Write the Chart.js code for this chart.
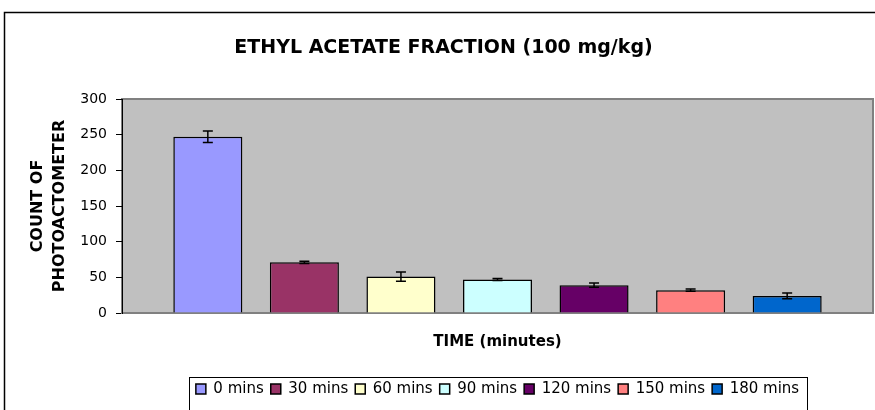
<!DOCTYPE html>
<html>
<head>
<meta charset="utf-8">
<script src="https://cdn.jsdelivr.net/npm/chart.js@4"></script>
<style>
  body { margin: 0; background: #fff; }
  #chartRoot { width: 875px; height: 410px; }
</style>
</head>
<body>
<div id="chartRoot"><canvas id="myChart" width="875" height="410"></canvas></div>
<script>
// data
const timePoints = ['0 mins', '30 mins', '60 mins', '90 mins', '120 mins', '150 mins', '180 mins'];
const counts = [247, 71, 51, 47, 39, 32, 24];
const errors = [8, 1.5, 6.5, 1.5, 3, 1.5, 4];
const barColors = ['#9999FF', '#993366', '#FFFFCC', '#CCFFFF', '#660066', '#FF8080', '#0066CC'];
const yTicks = [0, 50, 100, 150, 200, 250, 300];

Chart.defaults.font.family = "'DejaVu Sans', sans-serif";
Chart.defaults.color = '#000';

// grey plot area, outer frame and legend box
const framePlugin = {
	id: 'frame',
	beforeDraw(chart) {
		const ctx = chart.ctx;
		const a = chart.chartArea;
		ctx.save();
		ctx.fillStyle = '#fff';
		ctx.fillRect(0, 0, chart.width, chart.height);
		ctx.strokeStyle = '#000';
		ctx.lineWidth = 1.5;
		ctx.strokeRect(4.5, 12.5, chart.width + 20, chart.height + 20);
		ctx.fillStyle = '#C0C0C0';
		ctx.fillRect(a.left, a.top, a.right - a.left, a.bottom - a.top);
		ctx.strokeStyle = '#808080';
		ctx.lineWidth = 2;
		ctx.strokeRect(a.left, a.top, a.right - a.left, a.bottom - a.top);

		const boxes = chart.legend.legendHitBoxes;
		if (boxes && boxes.length) {
			const first = boxes[0];
			const last = boxes[boxes.length - 1];
			const midY = first.top + first.height / 2;
			ctx.strokeStyle = '#000';
			ctx.lineWidth = 1;
			ctx.strokeRect(Math.round(first.left - 7) + 0.5, Math.round(midY - 12) + 0.5,
				Math.round(last.left + last.width - first.left + 15), 60);
		}
		ctx.restore();
	}
};

// error bars drawn through the y scale
const errorBars = {
	id: 'errorBars',
	afterDatasetsDraw(chart) {
		const ctx = chart.ctx;
		const y = chart.scales.y;
		ctx.save();
		ctx.strokeStyle = '#000';
		ctx.lineWidth = 1.5;
		chart.data.datasets.forEach((ds, i) => {
			const bar = chart.getDatasetMeta(i).data[0];
			const top = y.getPixelForValue(counts[i] + errors[i]);
			const bot = y.getPixelForValue(counts[i] - errors[i]);
			ctx.beginPath();
			ctx.moveTo(bar.x, top); ctx.lineTo(bar.x, bot);
			ctx.moveTo(bar.x - 5, top); ctx.lineTo(bar.x + 5, top);
			ctx.moveTo(bar.x - 5, bot); ctx.lineTo(bar.x + 5, bot);
			ctx.stroke();
		});
		ctx.restore();
	}
};

const datasets = [];
for (let i = 0; i < timePoints.length; i++) {
	datasets.push({
		label: timePoints[i],
		data: [counts[i]],
		backgroundColor: barColors[i],
		borderColor: '#000',
		borderWidth: 1.5,
		categoryPercentage: 0.9,
		barPercentage: 0.715
	});
}

const ctx = document.getElementById('myChart');
const myChart = new Chart(ctx, {
	type: 'bar',
	data: {
		labels: [''],
		datasets: datasets
	},
	options: {
		responsive: false,
		animation: false,
		layout: {
			padding: { left: 14, right: 2, top: 12, bottom: 3.5 }
		},
		scales: {
			x: {
				ticks: { display: false },
				grid: { display: false, drawTicks: false },
				border: { display: true, color: '#808080', width: 2 },
				title: {
					display: true,
					text: 'TIME (minutes)',
					font: { size: 15, weight: 'bold' },
					padding: { top: 20, bottom: 23.5 }
				}
			},
			y: {
				min: 0,
				max: 300,
				afterBuildTicks: scale => {
					scale.ticks = yTicks.map(v => ({ value: v }));
				},
				afterFit: scale => {
					scale.width = 108;
				},
				ticks: {
					font: { size: 14 },
					padding: 9
				},
				grid: {
					drawOnChartArea: false,
					tickLength: 6,
					color: '#000'
				},
				border: { color: '#000', width: 1 },
				title: {
					display: true,
					text: ['COUNT OF', 'PHOTOACTOMETER'],
					font: { size: 16, weight: 'bold', lineHeight: 1.375 },
					padding: { top: 13, bottom: 0 }
				}
			}
		},
		plugins: {
			title: {
				display: true,
				text: 'ETHYL ACETATE FRACTION (100 mg/kg)',
				font: { size: 19, weight: 'bold' },
				padding: { top: 24.6, bottom: 39.6 }
			},
			legend: {
				position: 'bottom',
				fullSize: false,
				labels: {
					boxWidth: 10,
					boxHeight: 10,
					padding: 7,
					font: { size: 15 }
				}
			},
			tooltip: { enabled: false }
		}
	},
	plugins: [framePlugin, errorBars]
});
</script>
</body>
</html>
